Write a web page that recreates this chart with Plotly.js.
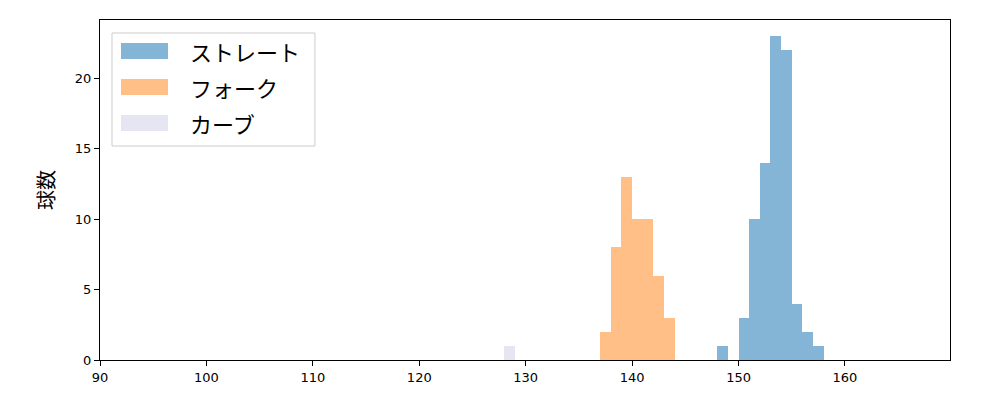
<!DOCTYPE html>
<html><head><meta charset="utf-8">
<script src="https://cdn.plot.ly/plotly-3.0.1.min.js"></script>
<style>body{margin:0}#c{width:1000px;height:400px}</style>
</head><body><div id="c"></div>
<script>
// bin starts (width 1) and counts
const straightBins = [148,149,150,151,152,153,154,155,156,157];
const straightCounts = [1,0,3,10,14,23,22,4,2,1];
const forkBins = [137,138,139,140,141,142,143];
const forkCounts = [2,8,13,10,10,6,3];
const curveBins = [128];
const curveCounts = [1];
const names = ["ストレート","フォーク","カーブ"];
const colors = ["rgba(31,119,180,0.55)","rgba(255,127,14,0.5)","rgb(230,230,242)"];
const xTicks = [90,100,110,120,130,140,150,160];
const yTicks = [0,5,10,15,20];

function bar(bins, counts, color, name){
  return {type:'bar', x:bins.map(b=>b+0.5), y:counts, width:1, name:name,
    marker:{color:color, line:{width:0}}, showlegend:false};
}
const data = [
  bar(straightBins, straightCounts, colors[0], names[0]),
  bar(forkBins, forkCounts, colors[1], names[1]),
  bar(curveBins, curveCounts, colors[2], names[2])
];

const fontFam = "'Noto Sans CJK JP', 'DejaVu Sans', sans-serif";
const shapes = [{type:'rect', xref:'paper', yref:'paper', x0:0.0141, x1:0.2529, y0:0.6294, y1:0.9618,
  line:{color:'#cccccc', width:1}, fillcolor:'rgba(255,255,255,0.8)', layer:'above'}];
const annotations = [];
const rowsY = [51, 87, 123];
rowsY.forEach((py,i)=>{
  const yc = (360-py)/340;
  const h = 8/340;
  shapes.push({type:'rect', xref:'paper', yref:'paper', x0:(121-100)/850, x1:(168-100)/850,
    y0:yc-h, y1:yc+h, line:{width:0}, fillcolor:colors[i], layer:'above'});
  annotations.push({xref:'paper', yref:'paper', x:(188-100)/850, y:yc, xanchor:'left', yanchor:'middle',
    text:names[i], showarrow:false, font:{size:22, color:'#000', family:fontFam}});
});

const layout = {
  width:1000, height:400,
  margin:{l:100, r:50, t:20, b:40},
  paper_bgcolor:'#fff', plot_bgcolor:'#fff',
  bargap:0, barmode:'overlay',
  font:{family:fontFam, color:'#000'},
  xaxis:{range:[90,169.87], tickvals:xTicks, ticktext:xTicks.map(String), ticks:'outside', ticklen:5,
    tickcolor:'#000', showline:true, linecolor:'#000', linewidth:1.2, mirror:true, showgrid:false, zeroline:false,
    tickfont:{size:13, family:'DejaVu Sans'}},
  yaxis:{range:[0,24.15], tickvals:yTicks, ticktext:yTicks.map(String), ticks:'outside', ticklen:5,
    tickcolor:'#000', showline:true, linecolor:'#000', linewidth:1.2, mirror:true, showgrid:false, zeroline:false,
    tickfont:{size:13, family:'DejaVu Sans'},
    title:{text:'球数', font:{size:20, family:fontFam}, standoff:14}},
  shapes:shapes, annotations:annotations, showlegend:false
};
Plotly.newPlot('c', data, layout, {staticPlot:true});
</script>
</body></html>
